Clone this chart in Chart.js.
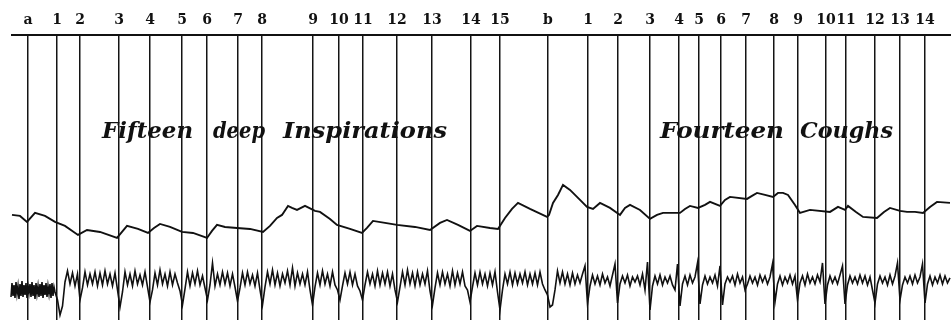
<!DOCTYPE html>
<html>
<head>
<meta charset="utf-8">
<script src="https://cdn.jsdelivr.net/npm/chart.js@4"></script>
<style>
  html, body { margin: 0; padding: 0; background: #fff; }
  #wrap { width: 951px; height: 328px; }
</style>
</head>
<body>
<div id="wrap"><canvas id="trace"></canvas></div>
<script>
// signal marks along the drum, a = start of inspirations, b = start of coughs
const markerLabels = ['a','1','2','3','4','5','6','7','8','9','10','11','12','13','14','15',
                      'b','1','2','3','4','5','6','7','8','9','10','11','12','13','14'];
const markerX = [28,57,80,119,150,182,207,238,262,313,339,363,397,432,471,500,
                 548,588,618,650,679,699,721,746,774,798,826,846,875,900,925];

// upper tracing (pressure), drum position / pen height
const upperX = [12,20,27,35,45,55,65,78,87,100,117,122,127,138,148,154,160,170,182,193,
                207,212,217,225,237,250,263,270,277,282,288,292,297,305,315,320,330,337,350,362,
                367,373,385,397,415,430,440,447,458,470,477,490,498,505,512,518,530,547,549,553,
                558,563,570,580,587,593,600,610,620,625,630,640,650,657,663,680,685,690,698,705,
                710,720,725,730,747,752,757,765,773,778,783,788,795,800,810,830,838,845,848,856,
                863,877,884,890,900,907,915,923,930,937,950];
const upperY = [215,216,222,213,216,222,226,235,230,232,238,232,226,229,233,228,224,227,232,233,
                238,231,225,227,228,229,232,226,218,215,206,208,210,206,211,212,219,225,229,233,
                228,221,223,225,227,230,223,220,225,231,226,228,229,218,209,203,209,217,215,203,
                195,185,190,200,207,209,203,208,215,208,205,210,219,215,213,213,209,206,208,205,
                202,206,200,197,199,196,193,195,197,193,193,195,205,213,210,212,207,210,206,212,
                217,218,212,208,211,212,212,213,207,202,203];

// lower tracing (respiration), sampled at an even step in each section
const lowerRest = [290,297,283,296,285,298,282,294,286,299,
                   284,296,281,297,285,295,283,298,286,293,
                   284,297,282,296,285,299,283,294,286,297,
                   284,296,282,298,285,295,283,297,286,294,
                   284,298,283,296,287,292];
const lowerInspire = [
  300,315,306,282,271,284,273,286,274,300,
  288,272,285,274,284,272,286,273,285,271,
  284,274,286,273,290,307,292,272,285,274,
  286,271,284,275,285,272,287,302,290,273,
  285,270,284,274,286,272,285,274,283,291,
  305,289,272,286,273,284,271,285,276,288,
  300,285,263,286,274,285,272,284,273,286,
  274,287,301,288,273,285,272,284,275,286,
  273,290,305,287,272,284,270,285,273,286,
  274,283,271,285,268,286,273,284,274,285,
  272,290,305,287,273,285,271,284,274,286,
  272,285,290,300,286,273,284,272,285,274,
  286,291,300,285,272,284,274,286,271,285,
  273,284,272,286,274,290,302,287,272,285,
  270,284,273,286,272,285,274,284,271,291,
  305,288,273,285,272,284,274,286,271,285,
  273,284,272,286,290,302,287,273,285,272,
  284,274,286,273,285,272,292,310,290,274,
  284,272,285,273,284,274,283,272,285,274,
  284,273,285,272,284,290];
const lowerCough = [
  295,307,305,290,271,283,272,284,274,285,
  273,284,275,283,274,266,304,286,275,284,
  276,285,274,283,277,286,275,264,303,284,
  276,283,275,286,277,282,276,285,274,290,
  262,310,286,276,284,275,285,277,283,276,
  285,290,264,306,284,276,285,275,283,277,
  263,304,285,276,284,277,283,275,286,266,
  305,284,277,282,276,285,274,283,277,290,
  284,276,283,277,285,275,282,276,284,277,
  264,302,284,276,285,277,283,275,284,276,
  300,283,276,285,274,283,277,284,275,282,
  263,304,285,276,283,277,284,275,266,304,
  285,276,283,277,284,275,283,276,285,277,
  290,303,284,276,283,277,285,275,284,276,
  263,300,285,277,283,276,284,275,283,277,
  264,303,284,276,285,277,283,275,284,276,
  283,278];

// section start and sample step along the drum
const lowerSections = [
  { values: lowerRest, from: 10, step: 1 },
  { values: lowerInspire, from: 57.5, step: 2.5 },
  { values: lowerCough, from: 547.5, step: 2.5 }
];

const notes = [
  { text: 'Fifteen', x: 102, width: 91 },
  { text: 'deep', x: 213, width: 52 },
  { text: 'Inspirations', x: 283, width: 164 },
  { text: 'Fourteen', x: 660, width: 124 },
  { text: 'Coughs', x: 800, width: 93 }
];
const noteBaseline = 138;

const upperPoints = upperX.map((x, i) => ({ x: x, y: upperY[i] }));
let lowerPoints = [];
for (const s of lowerSections) {
  s.values.forEach((v, i) => lowerPoints.push({ x: s.from + i * s.step, y: v }));
}

// italic captions written across the tracing
const captionPlugin = {
  id: 'captions',
  afterDatasetsDraw(chart) {
    const ctx = chart.ctx;
    const xs = chart.scales.x, ys = chart.scales.y;
    ctx.save();
    ctx.font = 'italic bold 22px "DejaVu Serif"';
    ctx.fillStyle = '#111';
    ctx.textBaseline = 'alphabetic';
    for (const n of notes) {
      const left = xs.getPixelForValue(n.x);
      const right = xs.getPixelForValue(n.x + n.width);
      const w = ctx.measureText(n.text).width;
      ctx.save();
      ctx.translate(left, ys.getPixelForValue(noteBaseline));
      ctx.scale((right - left) / w, 1);
      ctx.fillText(n.text, 0, 0);
      ctx.restore();
    }
    ctx.restore();
  }
};

new Chart(document.getElementById('trace'), {
  type: 'line',
  data: {
    datasets: [
      { data: upperPoints, borderColor: '#111', borderWidth: 1.9 },
      { data: lowerPoints, borderColor: '#111', borderWidth: 1.6 }
    ]
  },
  options: {
    responsive: true,
    maintainAspectRatio: false,
    animation: false,
    layout: { padding: { top: 6, left: 12, right: 0, bottom: 8 } },
    elements: { point: { radius: 0 }, line: { tension: 0, borderJoinStyle: 'miter' } },
    datasets: { line: { clip: false } },
    plugins: { legend: { display: false }, tooltip: { enabled: false } },
    scales: {
      x: {
        type: 'linear',
        position: 'top',
        min: 12,
        max: 951,
        afterBuildTicks: (scale) => {
          scale.ticks = markerX.map(v => ({ value: v }));
        },
        ticks: {
          autoSkip: false,
          maxRotation: 0,
          padding: 6,
          color: '#111',
          font: { family: 'DejaVu Serif', weight: 'bold', size: 14 },
          callback: (value, index) => markerLabels[index]
        },
        grid: { color: '#141414', lineWidth: 1.5, drawTicks: false },
        border: { color: '#111', width: 2 }
      },
      y: { display: false, reverse: true, min: 35, max: 320 }
    }
  },
  plugins: [captionPlugin]
});
</script>
</body>
</html>
